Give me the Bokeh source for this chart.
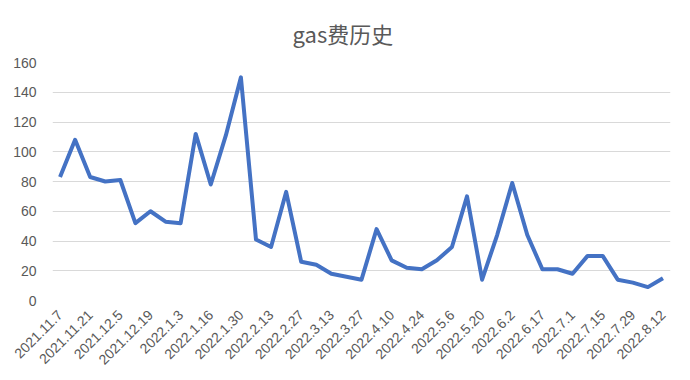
from bokeh.plotting import figure
from bokeh.models import FixedTicker, Range1d
from bokeh.embed import file_html
from bokeh.resources import INLINE
import math

title_text = "gas费历史"
tick_labels = ["2021.11.7", "2021.11.21", "2021.12.5", "2021.12.19", "2022.1.3",
               "2022.1.16", "2022.1.30", "2022.2.13", "2022.2.27", "2022.3.13",
               "2022.3.27", "2022.4.10", "2022.4.24", "2022.5.6", "2022.5.20",
               "2022.6.2", "2022.6.17", "2022.7.1", "2022.7.15", "2022.7.29",
               "2022.8.12"]
gas_fee = [83, 108, 83, 80, 81, 52, 60, 53, 52, 112, 78, 111, 150, 41, 36, 73,
           26, 24, 18, 16, 14, 48, 27, 22, 21, 27, 36, 70, 14, 44, 79, 44,
           21, 21, 18, 30, 30, 14, 12, 9, 15]
x_idx = list(range(len(gas_fee)))
tick_pos = list(range(0, len(gas_fee), 2))

p = figure(width=690, height=380, output_backend="svg", toolbar_location=None,
           x_range=Range1d(-0.5, len(gas_fee) - 0.5), y_range=Range1d(0, 160),
           min_border_left=52, min_border_right=20, min_border_top=62,
           min_border_bottom=80, title=title_text)
p.title.align = "left"
p.title.offset = 240
p.title.text_font = "Noto Sans CJK SC"
p.title.text_font_size = "22px"
p.title.text_font_style = "normal"
p.title.text_color = "#595959"
p.title.standoff = 28

p.line(x_idx, gas_fee, line_color="#4472C4", line_width=4, line_join="round")

p.outline_line_color = None
p.xgrid.grid_line_color = None
p.ygrid.grid_line_color = "#d9d9d9"
p.ygrid.grid_line_width = 1

p.yaxis.ticker = FixedTicker(ticks=list(range(0, 161, 20)))
p.xaxis.ticker = FixedTicker(ticks=tick_pos)
p.xaxis.major_label_overrides = {i: lab for i, lab in zip(tick_pos, tick_labels)}
p.xaxis.major_label_orientation = math.pi / 4

for ax in (p.xaxis[0], p.yaxis[0]):
    ax.axis_line_color = None
    ax.major_tick_line_color = None
    ax.minor_tick_line_color = None
    ax.major_label_text_color = "#595959"
    ax.major_label_text_font = "Liberation Sans"
    ax.major_label_text_font_size = "14px"
p.yaxis.major_label_standoff = 10
p.xaxis.major_label_standoff = 6

open("out.html", "w").write(file_html(p, INLINE))
